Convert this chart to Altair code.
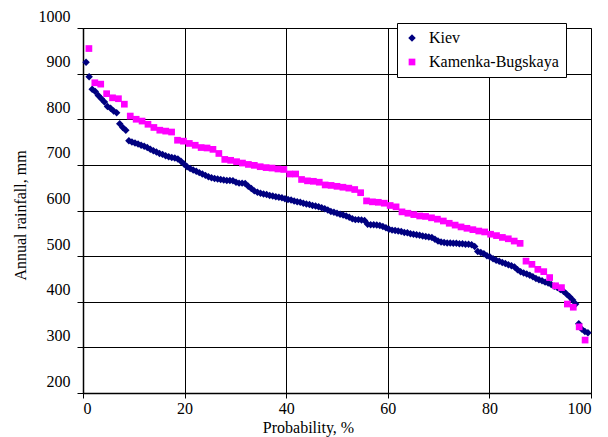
import altair as alt
import pandas as pd

series_names = ["Kiev", "Kamenka-Bugskaya"]
series_colors = ["#000080", "#FF00FF"]
series_shapes = ["diamond", "square"]

# Annual rainfall (mm), sorted descending; probability = rank / (n + 1)
kiev = [
    925, 893, 866, 861, 852, 845, 838, 828, 824, 818,
    814, 790, 782, 776, 753, 750, 748, 746, 743, 741,
    738, 734, 731, 728, 725, 723, 720, 718, 716, 715,
    713, 708, 702, 696, 692, 689, 686, 683, 680, 677,
    674, 672, 670, 669, 668, 667, 666, 666, 665, 662,
    660, 660, 659, 653, 648, 643, 640, 638, 636, 635,
    633, 632, 630, 629, 628, 626, 624, 623, 621, 619,
    618, 616, 614, 613, 611, 610, 608, 606, 604, 601,
    598, 596, 594, 592, 590, 588, 585, 582, 580, 580,
    579, 578, 570, 569, 569, 568, 567, 565, 562, 559,
    557, 556, 555, 554, 552, 551, 549, 548, 547, 546,
    544, 543, 542, 541, 537, 533, 531, 530, 529, 529,
    528, 528, 527, 527, 526, 526, 525, 521, 510, 508,
    505, 501, 498, 494, 491, 489, 486, 484, 481, 479,
    476, 470, 466, 463, 461, 458, 455, 451, 448, 446,
    443, 441, 438, 434, 431, 427, 423, 417, 411, 404,
    395, 352, 340, 335, 332,
]

kamenka = [
    955, 880, 877, 856, 847, 845, 833, 807, 800, 796,
    789, 782, 776, 774, 772, 754, 752, 747, 743, 738,
    737, 734, 725, 712, 710, 707, 704, 701, 699, 696,
    694, 693, 691, 690, 680, 680, 668, 665, 664, 662,
    656, 655, 653, 651, 649, 646, 639, 621, 619, 618,
    616, 611, 608, 597, 594, 591, 588, 587, 584, 581,
    577, 572, 568, 564, 561, 558, 555, 553, 548, 545,
    541, 538, 533, 528, 489, 482, 471, 466, 453, 435,
    431, 395, 388, 345, 316,
]

rows = []
for name, vals in zip(series_names, [kiev, kamenka]):
    n = len(vals)
    for i, v in enumerate(vals):
        rows.append({"series": name, "prob": (i + 1) / (n + 1) * 100, "rain": v})
df = pd.DataFrame(rows)

FONT = "Liberation Serif"

common_axis = dict(
    labelFont=FONT,
    titleFont=FONT,
    labelFontSize=16,
    titleFontSize=16,
    labelColor="#000000",
    titleColor="#000000",
    domainColor="#000000",
    domainWidth=1.5,
    tickColor="#000000",
    gridColor="#000000",
    gridWidth=1,
    gridOpacity=1,
    grid=True,
    format="d",
    titleFontWeight="normal",
)

chart = alt.Chart(df).mark_point(filled=True, opacity=1).encode(
    x=alt.X(
        "prob:Q",
        scale=alt.Scale(domain=[0, 100], nice=False, zero=False),
        axis=alt.Axis(
            values=[0, 20, 40, 60, 80, 100],
            title="Probability, %",
            titleX=225,
            titleY=34,
            titleBaseline="middle",
            labelPadding=2,
            tickSize=5,
            **common_axis,
        ),
    ),
    y=alt.Y(
        "rain:Q",
        scale=alt.Scale(domain=[200, 1000], nice=False, zero=False),
        axis=alt.Axis(
            values=[200, 300, 400, 500, 600, 700, 800, 900, 1000],
            title="Annual rainfall, mm",
            titleAngle=-90,
            titleX=-63,
            titleY=187,
            titleAlign="center",
            titleBaseline="middle",
            labelOffset=-12,
            labelPadding=7,
            tickSize=6,
            **common_axis,
        ),
    ),
    color=alt.Color(
        "series:N",
        scale=alt.Scale(domain=series_names, range=series_colors),
        legend=alt.Legend(
            title=None,
            orient="none",
            legendX=314,
            legendY=-5,
            strokeColor="#000000",
            fillColor="#FFFFFF",
            padding=7,
            rowPadding=8,
            labelOffset=9,
            labelFont=FONT,
            labelFontSize=16,
            labelColor="#000000",
            symbolSize=49,
            symbolStrokeWidth=0,
        ),
    ),
    shape=alt.Shape(
        "series:N",
        scale=alt.Scale(domain=series_names, range=series_shapes),
    ),
    size=alt.Size(
        "series:N",
        scale=alt.Scale(domain=series_names, range=[56, 45]),
        legend=None,
    ),
).properties(
    width=508,
    height=365,
    background="#FFFFFF",
    autosize=alt.AutoSizeParams(type="none"),
    padding={"left": 75, "top": 20, "right": 9, "bottom": 44},
).configure_view(
    stroke="#808080",
    strokeWidth=1,
)

chart.save("out.html", embed_options={"renderer": "svg", "actions": False})
